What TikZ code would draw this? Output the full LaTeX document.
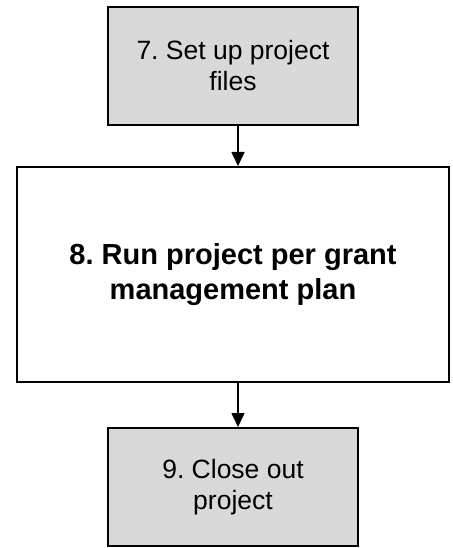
\documentclass[tikz,border=0pt]{standalone}
\usepackage{fontspec}
\setmainfont{Liberation Sans}
\frenchspacing
\usetikzlibrary{positioning,arrows.meta}

\begin{document}
\begin{tikzpicture}[x=1pt, y=1pt,
  stepbox/.style={draw, line width=1.6pt, fill=black!15, align=center,
    minimum width=250.4pt, minimum height=118.4pt,
    font=\fontsize{26.5}{31}\selectfont},
  mainbox/.style={draw, line width=1.6pt, fill=white, align=center,
    minimum width=432.4pt, minimum height=215.4pt,
    font=\fontsize{29}{35}\selectfont\bfseries},
  flow/.style={line width=1.6pt, -{Triangle[length=14pt, width=13pt]}}]
  \useasboundingbox (0,0) rectangle (452,-548);
  \node[stepbox] (setup) at (233,-66) {7. Set up project\\files};
  \node[mainbox, below=40pt of setup] (run) {8. Run project per grant\\management plan};
  \node[stepbox, below=44pt of run] (close) {9. Close out\\project};
  \path[flow]
  ([xshift=5pt]setup.south) edge ([xshift=5pt]setup.south |- run.north)
  ([xshift=5pt]setup.south |- run.south) edge ([xshift=5pt]close.north);
\end{tikzpicture}
\end{document}
